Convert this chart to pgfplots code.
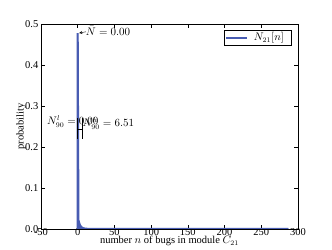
\documentclass[border=0pt]{standalone}
\usepackage{fontspec}
\setmainfont{Liberation Serif}
\usepackage{pgfplots}
\pgfplotsset{compat=1.18}
\definecolor{pblue}{RGB}{72,92,178}
\newcommand{\fs}{\fontsize{10.5pt}{12pt}\selectfont}
\begin{document}
\fs
\begin{tikzpicture}
\begin{axis}[
  scale only axis, width=257pt, height=205pt,
  xmin=-50, xmax=300, ymin=0, ymax=0.5,
  xtick={-50,0,50,100,150,200,250,300},
  ytick={0,0.1,0.2,0.3,0.4,0.5},
  yticklabel style={xshift=1pt, /pgf/number format/.cd,fixed,fixed zerofill,precision=1},
  /pgf/number format/assume math mode=true,
  tick label style={font=\fs},
  label style={font=\fs},
  major tick length=4pt,
  tick style={black, line width=0.5pt},
  axis line style={line width=0.6pt},
  xlabel={number $n$ of bugs in module $C_{21}$},
  ylabel={probability},
  xlabel style={yshift=7pt},
  ylabel style={yshift=-8pt},
  xticklabel style={yshift=4pt},
  legend style={at={(rel axis cs:0.973,0.971)}, anchor=north east, draw=black, font=\fs, inner sep=1pt, nodes={inner xsep=6pt, inner ysep=1.5pt}},
  legend cell align=left,
]
\addplot[fill=pblue, draw=pblue, line width=1pt, forget plot] coordinates {
(0,0) (0,0.478) (1,0.022) (2,0.015) (3,0.010) (4,0.007) (5,0.005) (6,0.0035) (7,0.0025) (8,0.0018) (10,0.001) (14,0.0004) (20,0.0001) (30,0) (287,0)
} \closedcycle;
\addplot[draw=pblue, line width=2pt,
  legend image code/.code={\draw[draw=pblue, line width=2pt] (0cm,0cm) -- (0.72cm,0cm);}] coordinates {
(0,0) (0,0.478) (1,0.022) (2,0.015) (3,0.010) (4,0.007) (5,0.005) (6,0.0035) (7,0.0025) (8,0.0018) (10,0.001) (14,0.0004) (20,0.0001) (30,0) (287,0)
};
\addlegendentry{$N_{21}[n]$}
\addplot[black, line width=0.6pt, forget plot] coordinates {(0,0.244) (6.51,0.244)};
\addplot[black, line width=0.6pt, forget plot] coordinates {(6.51,0.220) (6.51,0.270)};
\addplot[black, line width=0.6pt, forget plot] coordinates {(0,0.220) (0,0.270)};
\draw[-stealth, black, line width=0.4pt] (axis cs:11,0.481) -- (axis cs:2,0.478);
\node[anchor=west, inner sep=0pt] at (axis cs:11,0.484) {$\bar N = 0.00$};
\node[anchor=west, inner sep=0pt] at (axis cs:-42,0.262) {$N^{l}_{90} = 0.00$};
\node[anchor=west, inner sep=0pt] at (axis cs:6.5,0.257) {$N^{h}_{90} = 6.51$};
\end{axis}
\useasboundingbox (-41pt,-20pt) rectangle (291pt,229pt);
\end{tikzpicture}
\end{document}
